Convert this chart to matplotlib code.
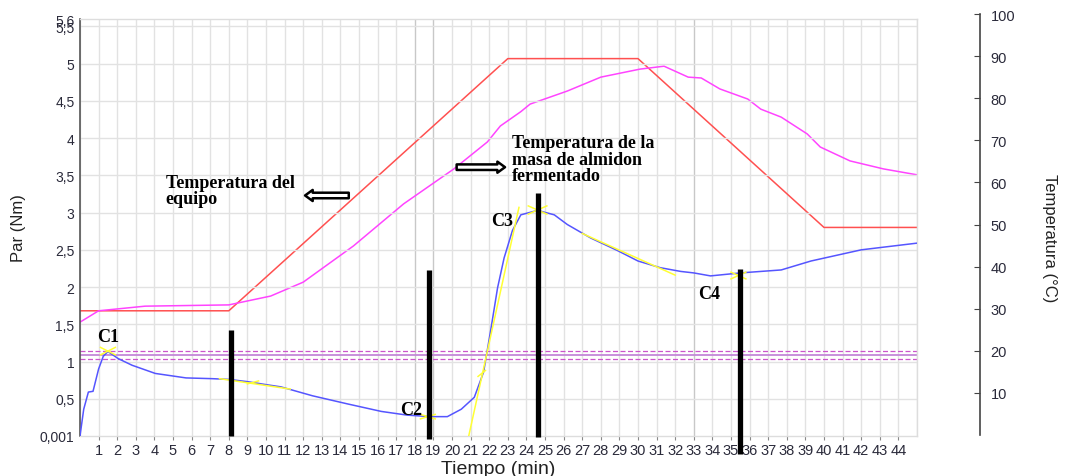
import matplotlib
matplotlib.use("Agg")
import matplotlib.pyplot as plt

# ---------------- data ----------------
torque_t = [0, 0.2, 0.45, 0.7, 1.0, 1.25, 1.5, 2.05, 2.8, 4.05, 5.7, 7.1, 8, 9, 10, 10.8,
            12.5, 14.4, 16.2, 17.6, 18.85, 19.75, 20.5, 21.2, 21.7, 22.1, 22.45, 22.8,
            23.25, 23.7, 24.6, 25.5, 26.2, 27.45, 28.9, 30.0, 31.2, 32.3, 33.0, 33.9,
            35.5, 37.7, 39.3, 42.0, 45]
torque_v = [0.0, 0.36, 0.59, 0.60, 0.90, 1.07, 1.135, 1.04, 0.95, 0.84, 0.78, 0.77, 0.76,
            0.73, 0.69, 0.66, 0.54, 0.43, 0.33, 0.28, 0.26, 0.26, 0.36, 0.52, 0.86, 1.45,
            1.99, 2.39, 2.76, 2.97, 3.03, 2.97, 2.84, 2.66, 2.49, 2.35, 2.26, 2.21, 2.19,
            2.15, 2.19, 2.23, 2.35, 2.50, 2.59]

mass_t = [0, 1, 3.5, 8, 10.25, 12, 14.7, 17.4, 20.1, 21.9, 22.6, 23.7, 24.2, 26.2, 28,
          30.1, 31.4, 32.7, 33.4, 34.4, 35.9, 36.6, 37.7, 39.1, 39.8, 41.4, 43.2, 45]
mass_T = [26.8, 29.5, 30.6, 30.9, 33.0, 36.3, 44.9, 54.9, 63.2, 69.6, 73.4, 76.8, 78.6,
          81.7, 85.0, 86.9, 87.6, 85.0, 84.8, 82.2, 79.8, 77.4, 75.5, 71.5, 68.4, 65.1,
          63.2, 61.8]

equip_t = [0, 8, 23, 30, 40, 45]
equip_T = [29.5, 29.5, 89.4, 89.4, 49.3, 49.3]

band_mid = 1.085
band_hi = 1.135
band_lo = 1.03

# yellow tangent segments (time pairs, torque pairs)
tangents = [
    ([1.1, 1.9], [1.09, 1.19]), ([1.1, 1.9], [1.19, 1.09]),
    ([7.5, 11.3], [0.77, 0.63]), ([9.0, 9.6], [0.70, 0.74]),
    ([18.3, 19.1], [0.23, 0.29]), ([18.3, 19.1], [0.29, 0.23]),
    ([20.9, 23.6], [0.0, 3.07]), ([21.4, 21.8], [0.80, 0.88]),
    ([24.1, 25.1], [2.98, 3.09]), ([24.1, 25.1], [3.09, 2.98]),
    ([27.0, 32.0], [2.72, 2.16]),
    ([35.0, 35.8], [2.11, 2.20]), ([35.0, 35.8], [2.20, 2.11]),
]

# black marker bars (time, bottom, top)
bar_t = [8.1, 18.75, 24.6, 35.5]
bar_bottom = [0.0, -0.04, -0.02, -0.24]
bar_top = [1.43, 2.23, 3.27, 2.24]

c_labels = ["C1", "C2", "C3", "C4"]
c_x = [1.5, 17.8, 22.7, 33.8]
c_y = [1.34, 0.36, 2.89, 1.92]

x_ticks = list(range(1, 45))
y_ticks = [0.001, 0.5, 1, 1.5, 2, 2.5, 3, 3.5, 4, 4.5, 5, 5.5, 5.6]
y_tick_labels = ["0,001", "0,5", "1", "1,5", "2", "2,5", "3", "3,5", "4", "4,5", "5", "5,5", "5,6"]
t_ticks = [10, 20, 30, 40, 50, 60, 70, 80, 90, 100]

# ---------------- figure ----------------
W, H = 1066, 477
fig = plt.figure(figsize=(W / 100, H / 100), dpi=100)
plt.rcParams['font.family'] = ['Liberation Sans', 'DejaVu Sans']

ax = fig.add_axes([80 / W, 40 / H, (917 - 80) / W, (457 - 40) / H])
ax_t = ax.twinx()
ax.set_zorder(ax_t.get_zorder() + 1)
ax.patch.set_visible(False)

ax.set_xlim(0, 45)
ax.set_ylim(0, 5.6)
ax_t.set_ylim(-0.24, 98.81)

# grid
for m in range(0, 46):
    c = '#c8c8c8' if m in (18, 19, 33) else '#e2e2e2'
    ax_t.axvline(m, color=c, lw=1.0, zorder=0)
for v in [0.5, 1, 1.5, 2, 2.5, 3, 3.5, 4, 4.5, 5, 5.5]:
    ax.axhline(v, color='#e2e2e2', lw=1.0, zorder=0)

# temperatures
ax_t.plot(equip_t, equip_T, color='#ff5050', lw=1.1, zorder=2)
ax_t.plot(mass_t, mass_T, color='#ff44ff', lw=1.1, zorder=2)
ax_t.set_yticks([])
for s in ax_t.spines.values():
    s.set_visible(False)

# band lines
ax.axhline(band_mid, color='#c488d8', lw=1.3, zorder=2)
ax.axhline(band_hi, color='#cc55cc', lw=0.9, ls=(0, (4, 2)), zorder=2)
ax.axhline(band_lo, color='#cc55cc', lw=0.9, ls=(0, (4, 2)), zorder=2)

# torque
ax.plot(torque_t, torque_v, color='#5555ff', lw=1.1, zorder=3)
for (tx, ty) in tangents:
    ax.plot(tx, ty, color='#ffff33', lw=1.1, zorder=4)

# bars
for t, b0, b1 in zip(bar_t, bar_bottom, bar_top):
    ax.plot([t, t], [b0, b1], color='black', lw=3.8, solid_capstyle='butt',
            clip_on=False, zorder=6)

for lab, x, y in zip(c_labels, c_x, c_y):
    ax.text(x, y, lab, family='Liberation Serif', fontweight='bold', fontsize=13,
            ha='center', va='center', zorder=7)

ax.text(4.6, 3.52, "Temperatura del\nequipo", family='Liberation Serif',
        fontweight='bold', fontsize=13, ha='left', va='top', linespacing=0.95, zorder=7)
ax.text(23.2, 4.05, "Temperatura de la\nmasa de almidon\nfermentado", family='Liberation Serif',
        fontweight='bold', fontsize=13, ha='left', va='top', linespacing=0.95, zorder=7)

arrow_style = 'simple,head_length=0.55,head_width=0.8,tail_width=0.4'
ax.annotate('', xy=(12.1, 3.23), xytext=(14.45, 3.23),
            arrowprops=dict(arrowstyle=arrow_style, fc='white', ec='black', lw=1.8,
                            shrinkA=0, shrinkB=0), zorder=7)
ax.annotate('', xy=(22.85, 3.61), xytext=(20.25, 3.61),
            arrowprops=dict(arrowstyle=arrow_style, fc='white', ec='black', lw=1.8,
                            shrinkA=0, shrinkB=0), zorder=7)

# axes styling
ax.set_xticks(x_ticks)
ax.set_xticklabels([str(i) for i in x_ticks])
ax.set_yticks(y_ticks)
ax.set_yticklabels(y_tick_labels)
ax.tick_params(axis='x', length=3, width=0.8, color='#888888', pad=2,
               labelsize=10.5, labelcolor='#2a2a3a')
ax.tick_params(axis='y', length=0, pad=4, labelsize=10, labelcolor='#2a2a3a')
ax.spines['left'].set_color('#555555')
ax.spines['left'].set_linewidth(1.2)
for k in ('top', 'right', 'bottom'):
    ax.spines[k].set_color('#dddddd')
    ax.spines[k].set_linewidth(1.0)

ax.set_xlabel("Tiempo (min)", fontsize=14, color='#222222', labelpad=2)
ax.set_ylabel("Par (Nm)", fontsize=12, color='#222222', labelpad=10)

# right temperature axis (display)
ax_r = fig.add_axes([979 / W, 41 / H, 0.0005, 421 / H])
ax_r.set_ylim(0, 100)
ax_r.set_xticks([])
ax_r.patch.set_visible(False)
for k in ('top', 'bottom', 'left'):
    ax_r.spines[k].set_visible(False)
ax_r.spines['right'].set_color('#444444')
ax_r.spines['right'].set_linewidth(1.2)
ax_r.yaxis.tick_right()
ax_r.set_yticks(t_ticks)
ax_r.tick_params(axis='y', direction='in', length=4, color='#444444', pad=8,
                 labelsize=10.5, labelcolor='#2a2a3a')

fig.text(1050 / W, 1 - 238 / H, "Temperatura (°C)", rotation=270, fontsize=12,
         ha='center', va='center', color='#222222')

fig.savefig("out.png", dpi=100)
